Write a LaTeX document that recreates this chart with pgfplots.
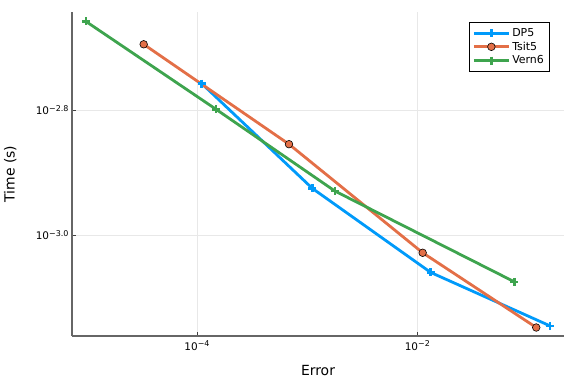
\documentclass[border=0pt]{standalone}
\usepackage{pgfplots}
\pgfplotsset{compat=1.18}
\usepackage{fontspec}
\setmainfont{DejaVu Sans}
\definecolor{cA}{RGB}{0,154,250}
\definecolor{cB}{RGB}{227,111,71}
\definecolor{cC}{RGB}{62,164,78}
\newcommand{\tp}[1]{10\raisebox{0.65ex}{\fontsize{8}{8}\selectfont #1}}
\begin{document}
\begin{tikzpicture}[x=1bp,y=1bp]
\useasboundingbox (0,0) rectangle (576,384);
\begin{axis}[
  at={(72bp,48bp)}, anchor=south west,
  scale only axis, width=492bp, height=324bp,
  xmode=log, ymode=log,
  xmin=7.33e-6, xmax=0.2148, ymin=6.895e-4, ymax=2.275e-3,
  axis x line*=bottom, axis y line*=left,
  axis line style={draw=black!60, line width=1.1bp, -},
  xtick={1e-4,1e-2}, xticklabels={\tp{−4},\tp{−2}},
  ytick={1.58489e-3,1e-3}, yticklabels={\tp{−2.8},\tp{−3.0}},
  minor tick num=0, minor xtick={}, minor ytick={},
  tick align=inside, major tick length=4bp,
  tick style={black!75, line width=0.9bp},
  grid=major, major grid style={black!9, line width=0.6bp},
  ticklabel style={font=\fontsize{10.5}{11}\selectfont},
  xticklabel style={yshift=-1bp},
  xlabel={Error}, ylabel={Time (s)},
  label style={font=\fontsize{14}{15}\selectfont},
  xlabel style={at={(axis description cs:0.5,0)}, anchor=north, yshift=-26bp},
  ylabel style={at={(axis description cs:0,0.5)}, anchor=south, yshift=52bp},
  legend style={at={(axis description cs:0.97,0.969)}, anchor=north east,
    font=\fontsize{11}{12}\selectfont, draw=black, line width=0.7bp,
    row sep=0bp, inner xsep=3bp, inner ysep=4bp,
    nodes={inner sep=2bp}},
  legend cell align=left,
  legend image code/.code={\draw[mark repeat=2,mark phase=2] plot coordinates {(0bp,0bp)(17.5bp,0bp)(35bp,0bp)};},
]
\addplot[cA, line width=2.8bp, mark=+, mark size=4bp, mark options={line width=2.5bp}] coordinates {
 (1.104e-4,1.748e-3) (1.114e-3,1.188e-3) (1.324e-2,8.715e-4) (0.1603,7.158e-4)};
\addlegendentry{DP5}
\addplot[cB, line width=2.8bp, mark=*, mark size=3.8bp, mark options={fill=cB, draw=black, line width=0.6bp}] coordinates {
 (3.28e-5,2.020e-3) (6.84e-4,1.398e-3) (1.119e-2,9.37e-4) (0.1202,7.115e-4)};
\addlegendentry{Tsit5}
\addplot[cC, line width=2.8bp, mark=+, mark size=4bp, mark options={line width=2.5bp}] coordinates {
 (9.82e-6,2.197e-3) (1.488e-4,1.590e-3) (1.79e-3,1.176e-3) (7.60e-2,8.42e-4)};
\addlegendentry{Vern6}
\end{axis}
\end{tikzpicture}
\end{document}
